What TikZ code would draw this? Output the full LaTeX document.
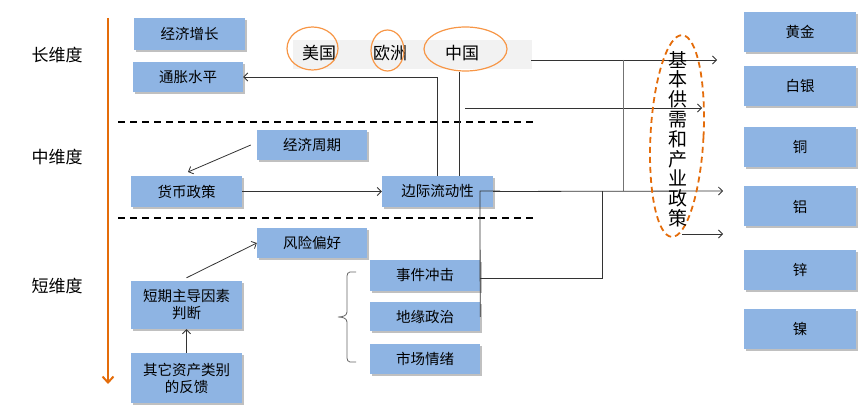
\documentclass[tikz,border=0pt]{standalone}
\usepackage{fontspec}
\setmainfont{Noto Sans CJK SC}
\usetikzlibrary{shadows,arrows.meta,shapes.geometric}
\definecolor{boxblue}{HTML}{8EB4E3}
\definecolor{bandgray}{HTML}{F2F2F2}
\definecolor{orgdark}{HTML}{E46C0A}
\definecolor{orglight}{HTML}{F79646}
\tikzset{
  box/.style={fill=boxblue, draw=none, inner sep=0pt, align=center,
    font=\fontsize{14.5}{17}\selectfont,
    drop shadow={shadow xshift=1.5pt, shadow yshift=-2pt, fill=black!45, opacity=0.55}},
  lab/.style={font=\fontsize{17}{19}\selectfont, inner sep=0pt},
  conn/.style={draw=black!80, line width=0.8pt},
  arr/.style={conn, -{Straight Barb[length=4pt,width=8pt]}},
  ring/.style={draw=orglight, line width=1.2pt, ellipse},
}
\begin{document}
\begin{tikzpicture}[x=1pt,y=-1pt]
\useasboundingbox (0,0) rectangle (867,419);
% orange time axis
\coordinate (ax1) at (108,18);
\coordinate (ax2) at (108,384);
\draw[orgdark, line width=2.6pt, -{Straight Barb[length=6pt,width=11pt,line width=2pt]}] (ax1) -- (ax2);
% left labels
\node[lab] (l1) at (57,55) {长维度};
\node[lab] (l2) at (57,157) {中维度};
\node[lab] (l3) at (57,286) {短维度};
% dashed separators
\coordinate (d1a) at (118,122); \coordinate (d1b) at (537,122);
\coordinate (d2a) at (118,218); \coordinate (d2b) at (537,218);
\draw[black, line width=1.6pt, dash pattern=on 7pt off 5pt] (d1a) -- (d1b);
\draw[black, line width=1.6pt, dash pattern=on 7pt off 5pt] (d2a) -- (d2b);
% gray band
\node[fill=bandgray, minimum width=239pt, minimum height=29pt, inner sep=0pt] (band) at (412.5,54.5) {};
\node[lab] (us) at (319,53) {美国};
\node[lab] (eu) at (390,53) {欧洲};
\node[lab] (cn) at (462,53) {中国};
\node[ring, minimum width=51pt, minimum height=43pt] (usE) at (312.5,48.5) {};
\node[ring, minimum width=33pt, minimum height=41pt] (euE) at (387.5,50.5) {};
\node[ring, minimum width=83pt, minimum height=44pt] (cnE) at (465.5,49) {};
% boxes
\node[box, minimum width=111pt, minimum height=32pt] (jjzz) at (189.5,34) {经济增长};
\node[box, minimum width=110pt, minimum height=30pt] (tzsp) at (188,77) {通胀水平};
\node[box, minimum width=110pt, minimum height=30pt] (jjzq) at (312,145) {经济周期};
\node[box, minimum width=111pt, minimum height=31pt] (hbzc) at (186.5,191.5) {货币政策};
\node[box, minimum width=111pt, minimum height=31pt] (bjld) at (437.5,191.5) {边际流动性};
\node[box, minimum width=110pt, minimum height=30pt] (fxph) at (312,243) {风险偏好};
\node[box, minimum width=111pt, minimum height=48pt] (dqzd) at (186.5,305) {短期主导因素\\判断};
\node[box, minimum width=111pt, minimum height=50pt] (qtzc) at (186.5,378) {其它资产类别\\的反馈};
\node[box, minimum width=110pt, minimum height=31pt] (sjcj) at (425,275.5) {事件冲击};
\node[box, minimum width=110pt, minimum height=29pt] (dyzz) at (425,316.5) {地缘政治};
\node[box, minimum width=110pt, minimum height=30pt] (sjqx) at (425,359) {市场情绪};
% right boxes
\node[box, minimum width=112pt, minimum height=40pt] (hj) at (800,32) {黄金};
\node[box, minimum width=112pt, minimum height=40pt] (by) at (800,86) {白银};
\node[box, minimum width=112pt, minimum height=40pt] (tong) at (800,147) {铜};
\node[box, minimum width=112pt, minimum height=40pt] (lv) at (800,206.5) {铝};
\node[box, minimum width=112pt, minimum height=40pt] (xin) at (800,270) {锌};
\node[box, minimum width=112pt, minimum height=40pt] (nie) at (800,329) {镍};
% connectors
\draw[arr] (jjzq.west |- 0,145) ++(-6,0) coordinate (jq0) -- (188,172);
\draw[arr] (hbzc.east) -- (bjld.west);
\draw[arr] (dqzd.north) ++(0,-3) -- (fxph.west);
\draw[arr] (qtzc.north) -- (dqzd.south);
\draw[arr] (bjld.north -| 437,0) |- (tzsp.east |- 0,77);
\draw[conn] (bjld.north -| 459,0) -- (cnE.south -| 459,0);
% right arrows
\coordinate (r1s) at (531,60);  \coordinate (r1e) at (717,60);
\coordinate (r2s) at (465,108); \coordinate (r2e) at (702,108);
\coordinate (r3e) at (723,191);
\coordinate (r4s) at (682,234); \coordinate (r4e) at (723,234);
\draw[arr] (r1s) -- (r1e);
\draw[arr] (r2s) -- (r2e);
\draw[draw=black!55, line width=0.8pt] (623,60) -- (623,191);
\draw[arr] (bjld.east) -- (r3e);
\draw[conn] (dyzz.east |- 0,317) -- (480,191) -- (500,191);
\draw[conn] (sjcj.east |- 0,278) -| (602,191);
\draw[arr] (r4s) -- (r4e);
% brace
\draw[draw=black!60, line width=0.8pt] (356,272) -- (350,272) to[out=180,in=90] (347,276) -- (347,312) to[out=-90,in=0] (338,317) to[out=0,in=90] (347,322) -- (347,358) to[out=-90,in=180] (350,362) -- (356,362);
% vertical text with dashed ellipse
\node[draw=orgdark, dashed, dash pattern=on 6pt off 4pt, line width=1.8pt, ellipse, minimum width=53pt, minimum height=202pt, rotate=-3] (elp) at (677,136) {};
\node[font=\fontsize{19}{19.8}\selectfont, align=center, inner sep=0pt] (vt) at (678,139) {基\\本\\供\\需\\和\\产\\业\\政\\策};
\end{tikzpicture}
\end{document}
